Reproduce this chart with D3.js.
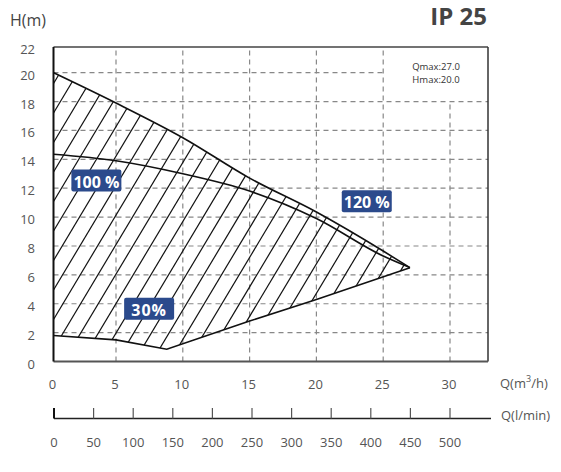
<!DOCTYPE html>
<html><head><meta charset="utf-8">
<script src="https://cdn.jsdelivr.net/npm/d3@7"></script>
<style>
html,body{margin:0;padding:0;background:#fff;}
svg{display:block;font-family:'Open Sans','DejaVu Sans',sans-serif;}
</style></head>
<body><svg id="c" width="561" height="472"></svg>
<script>
// ---- data ----
const hTicks = [0,2,4,6,8,10,12,14,16,18,20,22];
const qTicks = [0,5,10,15,20,25,30];
const lminTicks = [0,50,100,150,200,250,300,350,400,450,500];
const curve120Q = [0,5,10,15,20,25,27];
const curve120H = [20.0,17.9,15.5,12.7,10.35,7.65,6.5];
const curve100Q = [0,5,10,15,20,25,27];
const curve100H = [14.35,13.9,13.0,11.8,9.9,7.3,6.5];
const curve30Q = [0,5,8.8,15,20,27];
const curve30H = [1.8,1.5,0.85,2.8,4.3,6.5];
const labelTexts = ["100 %","30%","120 %"];
const labelQ = [3.43,7.48,23.77];
const labelH = [12.53,3.66,11.1];
const title = "IP 25";
const infoLines = ["Qmax:27.0","Hmax:20.0"];

// ---- scales ----
const svg = d3.select("#c");
const x = d3.scaleLinear().domain([0,5,30]).range([53.5,116,450]);
const y = d3.scaleLinear().domain([0,20,22]).range([361.5,72.7,47]);
const xl = d3.scaleLinear().domain([0,500]).range([54,450]);
const xRight = 488, yTop = 47;
const x0 = x(0), y0 = y(0);

// ---- grid ----
const grid = svg.append("g").attr("stroke","#888").attr("stroke-width",1.2).attr("stroke-dasharray","5,4").attr("fill","none");
qTicks.filter(q=>q>0).forEach(q=>{
  grid.append("line").attr("x1",x(q)).attr("x2",x(q)).attr("y1",y0).attr("y2", q===30 ? y(18) : yTop);
});
hTicks.filter(h=>h>0 && h<22).forEach(h=>{
  grid.append("line").attr("x1",x0).attr("x2", h===20 ? x(25) : xRight).attr("y1",y(h)).attr("y2",y(h));
});

// ---- hatched region ----
const up = curve120Q.map((q,i)=>[x(q),y(curve120H[i])]);
const lo = curve30Q.map((q,i)=>[x(q),y(curve30H[i])]);
const poly = [[x0,y(curve30H[0])]].concat(up).concat(lo.slice().reverse());
svg.append("clipPath").attr("id","reg").append("path")
  .attr("d", d3.line()(poly)+"Z");
const hatch = svg.append("g").attr("clip-path","url(#reg)").attr("stroke","#111").attr("stroke-width",1.2);
const slope = 1.67, step = 17.66, start = 7.7;
for(let k=-12;k<30;k++){
  const xb = start + k*step;
  hatch.append("line").attr("x1",xb).attr("y1",y0+5).attr("x2",xb+(y0+5-30)/slope).attr("y2",30);
}

// ---- curves ----
const lineM = d3.line().curve(d3.curveMonotoneX);
svg.append("path").attr("d",lineM(up)).attr("fill","none").attr("stroke","#111").attr("stroke-width",1.6);
svg.append("path").attr("d",lineM(curve100Q.map((q,i)=>[x(q),y(curve100H[i])]))).attr("fill","none").attr("stroke","#111").attr("stroke-width",1.6);
svg.append("path").attr("d",d3.line()(lo)).attr("fill","none").attr("stroke","#111").attr("stroke-width",1.6);

// ---- frame ----
svg.append("line").attr("x1",x0).attr("x2",xRight).attr("y1",yTop).attr("y2",yTop).attr("stroke","#444").attr("stroke-width",1.5);
svg.append("line").attr("x1",xRight).attr("x2",xRight).attr("y1",yTop).attr("y2",y0).attr("stroke","#333").attr("stroke-width",1.5);
svg.append("line").attr("x1",x0).attr("x2",xRight).attr("y1",y0).attr("y2",y0).attr("stroke","#555").attr("stroke-width",2);
svg.append("line").attr("x1",x0).attr("x2",x0).attr("y1",yTop).attr("y2",y0).attr("stroke","#111").attr("stroke-width",2);

// ---- y labels ----
svg.append("g").selectAll("text").data(hTicks).join("text")
  .attr("x",35).attr("y",d=>y(d)+2).attr("text-anchor","end").attr("dominant-baseline","central")
  .attr("font-size",13).attr("fill","#555").text(d=>d);
svg.append("text").attr("x",10).attr("y",26).attr("font-size",16).attr("fill","#444").text("H(m)");

// ---- x labels ----
svg.append("g").selectAll("text").data(qTicks).join("text")
  .attr("x",d=>x(d)-1).attr("y",383.5).attr("text-anchor","middle").attr("dominant-baseline","central")
  .attr("font-size",13).attr("fill","#555").text(d=>d);
svg.append("text").attr("x",500).attr("y",383).attr("dominant-baseline","central").attr("font-size",13).attr("fill","#555")
  .html("Q(m<tspan font-size='9' dy='-5'>3</tspan><tspan dy='5'>/h)</tspan>");

// ---- l/min axis ----
svg.append("line").attr("x1",54).attr("x2",491).attr("y1",418.5).attr("y2",418.5).attr("stroke","#222").attr("stroke-width",1.5);
svg.append("g").selectAll("line").data(lminTicks).join("line")
  .attr("x1",d=>xl(d)).attr("x2",d=>xl(d)).attr("y1",408).attr("y2",418.5)
  .attr("stroke",d=>d===0?"#111":"#555").attr("stroke-width",d=>d===0?2:1.2);
svg.append("g").selectAll("text").data(lminTicks).join("text")
  .attr("x",d=>xl(d)).attr("y",442).attr("text-anchor","middle").attr("dominant-baseline","central")
  .attr("font-size",13).attr("fill","#555").text(d=>d);
svg.append("text").attr("x",501).attr("y",415).attr("dominant-baseline","central").attr("font-size",13).attr("fill","#555").text("Q(l/min)");

// ---- title & info ----
svg.append("text").attr("x",487).attr("y",25).attr("text-anchor","end").attr("font-size",24).attr("font-weight","bold").attr("fill","#444").text(title);
svg.append("g").selectAll("text").data(infoLines).join("text")
  .attr("x",436).attr("y",(d,i)=>66+i*13).attr("text-anchor","middle").attr("dominant-baseline","central")
  .attr("font-size",9.5).attr("fill","#333").text(d=>d);

// ---- curve labels ----
labelTexts.forEach((t,i)=>{
  const g = svg.append("g").attr("transform",`translate(${x(labelQ[i])},${y(labelH[i])})`);
  const w = 50, h = 22;
  g.append("rect").attr("fill","#2b4a8c").attr("rx",2).attr("x",-w/2).attr("y",-h/2).attr("width",w).attr("height",h);
  g.append("text").attr("text-anchor","middle").attr("dominant-baseline","central").attr("y",1)
    .attr("font-size",16).attr("font-weight","bold").attr("fill","#fff").attr("letter-spacing",i===1?1:0).text(t);
});
</script></body></html>
